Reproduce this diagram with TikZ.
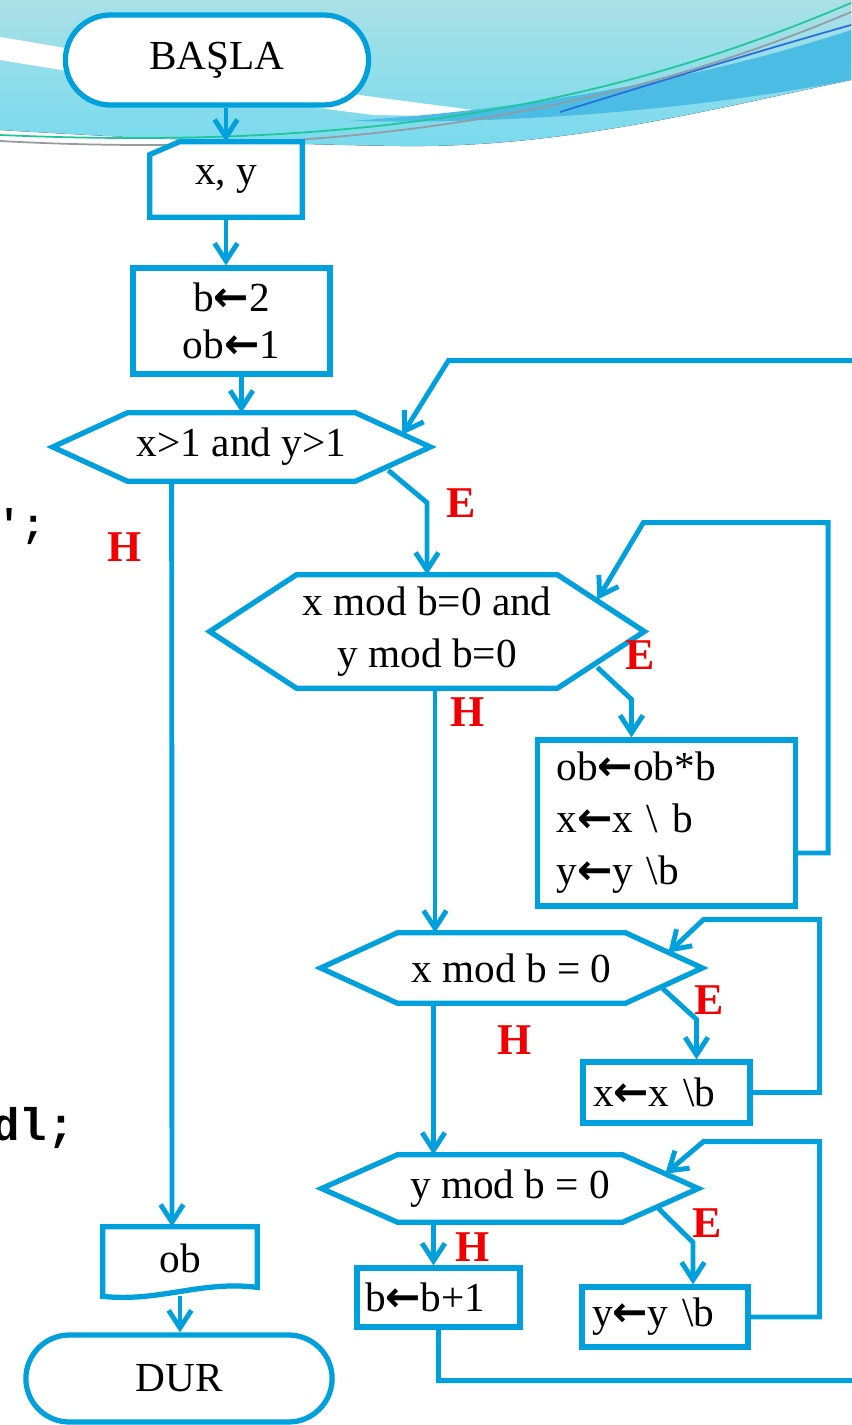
\documentclass[tikz,border=0pt]{standalone}
\usepackage{fontspec}
\setmainfont{Liberation Serif}
\newfontfamily\arrowfont{DejaVu Sans}
\newfontfamily\codefont{Liberation Mono}
\usetikzlibrary{shapes.misc, arrows.meta, positioning, calc, backgrounds}

\definecolor{flowblue}{RGB}{0,160,220}
\definecolor{waveteal}{RGB}{170,224,230}
\definecolor{wavecyan}{RGB}{120,218,238}
\definecolor{swooshblue}{RGB}{75,188,228}
\definecolor{linegreen}{RGB}{30,200,150}
\definecolor{linegrey}{RGB}{150,155,160}
\definecolor{lineblue}{RGB}{40,110,220}
\definecolor{labelred}{RGB}{240,0,0}

\newcommand{\getsarrow}{{\arrowfont\bfseries\fontsize{24}{24}\selectfont ←}}

\begin{document}
\begin{tikzpicture}[
    x=0.02cm, y=-0.02cm,
    every node/.style={font=\fontsize{23.5}{29.6}\selectfont},
    terminal/.style={
      rounded rectangle,
      draw=flowblue,
      fill=white,
      line width=3pt,
      minimum width=6.3cm,
      minimum height=1.8cm
    },
    process/.style={
      rectangle,
      draw=flowblue,
      fill=white,
      line width=3pt,
      align=left
    },
    decision/.style={
      rectangle,
      align=center,
      inner sep=0pt
    },
    outline/.style={
      draw=flowblue,
      fill=white,
      line width=3pt,
      line join=miter
    },
    arrow/.style={
      -{Straight Barb[length=10pt,width=13pt]},
      draw=flowblue,
      line width=2.8pt
    },
    answer/.style={
      text=labelred,
      font=\bfseries\fontsize{25}{25}\selectfont
    },
    code/.style={
      font=\codefont\bfseries\fontsize{#1}{#1}\selectfont,
      anchor=base west
    }
  ]
    \useasboundingbox (0,0) rectangle (851,1425);

    % Start, input, init
    \node (start) [terminal] at (217,60) {BAŞLA};
    \node (xy) [minimum width=3.04cm, minimum height=1.5cm] at (226,179.5) {\raisebox{-5pt}{x, y}};
    \node (init) [process, align=center, minimum width=3.94cm, minimum height=2.12cm,
      font=\fontsize{23.5}{26.7}\selectfont] at (231.5,321) {b\getsarrow2\\ob\getsarrow1};

    % Decisions
    \node (c1) [decision, minimum width=4.54cm, minimum height=1.36cm] at (241.5,447) {x>1 and y>1};
    \node (c2) [decision, minimum width=5.2cm, minimum height=2.26cm] at (427,631.5) {x mod b=0 and\\y mod b=0};
    \node (c3) [decision, minimum width=4.54cm, minimum height=1.4cm] at (511.5,968) {x mod b = 0};
    \node (c4) [decision, minimum width=4.48cm, minimum height=1.34cm] at (510,1188.5) {y mod b = 0};

    % Process boxes
    \node (p1) [process, text width=4.4cm, inner xsep=0.38cm, minimum height=3.32cm] at (666.5,823)
      {ob\getsarrow ob*b\\x\getsarrow x \textbackslash{} b\\y\getsarrow y \textbackslash b};
    \node (p2) [process, text width=2.94cm, inner xsep=0.2cm, minimum height=1.22cm] at (666.5,1092.5)
      {x\getsarrow x \textbackslash b};
    \node (p3) [process, text width=2.92cm, inner xsep=0.2cm, minimum height=1.2cm] at (665,1317)
      {y\getsarrow y \textbackslash b};
    \node (p4) [process, text width=2.94cm, inner xsep=0.16cm, minimum height=1.18cm] at (438.5,1297.5)
      {b\getsarrow b+1};

    % Output, stop
    \node (out) [minimum width=3.08cm, minimum height=1.26cm] at (180,1258.5) {ob};
    \node (stop) [terminal, minimum width=6.36cm, minimum height=1.74cm] at (179,1378.5) {DUR};

    % Code fragments behind the slide
    \node (quote) [code=22.8] at (-9,537) {\char"27;};
    \node (endl) [code=26] at (-14,1140) {dl;};

    % Outlines and wave
    \begin{pgfonlayer}{background}
      \fill[top color=waveteal, bottom color=wavecyan] (0,0) -- (851,0) -- (851,80)
        .. controls (700,112) and (560,148) .. (400,146)
        .. controls (250,144) and (100,136) .. (0,130) -- cycle;
      \fill[white] (0,37) .. controls (60,47) and (250,80) .. (374,97)
        .. controls (450,107) and (500,114) .. (545,117)
        .. controls (480,117) and (430,116) .. (374,115)
        .. controls (250,100) and (60,70) .. (0,60) -- cycle;
      \fill[swooshblue] (350,121) .. controls (520,110) and (700,80) .. (851,30) -- (851,80)
        .. controls (720,105) and (540,125) .. (350,121) -- cycle;
      \draw[linegrey, line width=1pt] (0,141) .. controls (350,160) and (620,110) .. (851,12);
      \draw[linegreen, line width=1pt] (0,135) .. controls (350,150) and (600,110) .. (851,3);
      \draw[lineblue, line width=1pt] (560,112) .. controls (680,75) and (780,45) .. (851,25);

      \draw[outline] (xy.south west) -- ($(xy.north west)+(0,13)$) -- ($(xy.north west)+(30,0)$)
        -- (xy.north east) -- (xy.south east) -- cycle;
      \foreach \n/\t in {c1/75, c2/87, c3/77, c4/76}
        \draw[outline] (\n.north west) -- (\n.north east) -- ($(\n.east)+(\t,0)$) -- (\n.south east)
          -- (\n.south west) -- ($(\n.west)+(-\t,0)$) -- cycle;
      \draw[outline] ($(out.south west)+(0,6)$) -- (out.north west) -- (out.north east)
        -- ($(out.south east)+(0,-3)$)
        .. controls ($(out.south)+(20,-10)$) and ($(out.south)+(-20,12)$) .. ($(out.south west)+(0,6)$) -- cycle;
    \end{pgfonlayer}

    % Connections
    \draw [arrow] (xy.north |- start.south) -- (xy.north);
    \draw [arrow] (xy.south) -- (xy.south |- init.north);
    \draw [arrow] (c1.north |- init.south) -- (c1.north);
    \draw [arrow] ($(c1.south west)+(44,0)$) -- ($(out.north)+(-8,0)$);
    \draw [arrow] ($(c1.south east)+(33,-11)$) -- ($(c2.north)+(0,-72)$) -- (c2.north);
    \draw [arrow] ($(p1.east)+(0,30)$) -- ++(30,0) |- ($(c2.north east)+(86,-52)$) -- ($(c2.north east)+(40,25)$);
    \draw [arrow] ($(c2.south east)+(40,-21)$) -- ($(p1.north)+(-35,-38)$) -- ($(p1.north)+(-35,0)$);
    \coordinate (drop2) at ($(c2.south)+(8,0)$);
    \draw [arrow] (drop2) -- (drop2 |- c3.north);
    \draw [arrow] (p2.east) -- ++(67,0) |- ($(c3.north east)+(78,-13)$) -- ($(c3.north east)+(43,20)$);
    \draw [arrow] ($(c3.south east)+(35,-17)$) -- ($(p2.north)+(30,-40)$) -- ($(p2.north)+(30,0)$);
    \coordinate (drop3) at ($(c3.south)+(-78,0)$);
    \draw [arrow] (drop3) -- (drop3 |- c4.north);
    \draw [arrow] (p3.east) -- ++(69,0) |- ($(c4.north east)+(81,-13)$) -- ($(c4.north east)+(43,19)$);
    \draw [arrow] ($(c4.south east)+(35,-15)$) -- ($(p3.north)+(28,-42)$) -- ($(p3.north)+(28,0)$);
    \draw [arrow] (drop3 |- c4.south) -- (drop3 |- p4.north);
    \draw [arrow] (p4.south) -- ++(0,51) -- ++(432,0) |- ($(c1.north east)+(93,-52)$) -- ($(c1.north east)+(47,22)$);
    \draw [arrow] ($(out.south)+(0,6)$) -- (out.south |- stop.north);

    % Branch labels
    \node (evet1) [answer] at (461,503) {E};
    \node (hayir1) [answer] at (125,547) {H};
    \node (evet2) [answer] at (640,655) {E};
    \node (hayir2) [answer] at (468,712) {H};
    \node (evet3) [answer] at (709,1000) {E};
    \node (hayir3) [answer] at (515,1040) {H};
    \node (evet4) [answer] at (707,1223) {E};
    \node (hayir4) [answer] at (473,1247) {H};

  \end{tikzpicture}
\end{document}
